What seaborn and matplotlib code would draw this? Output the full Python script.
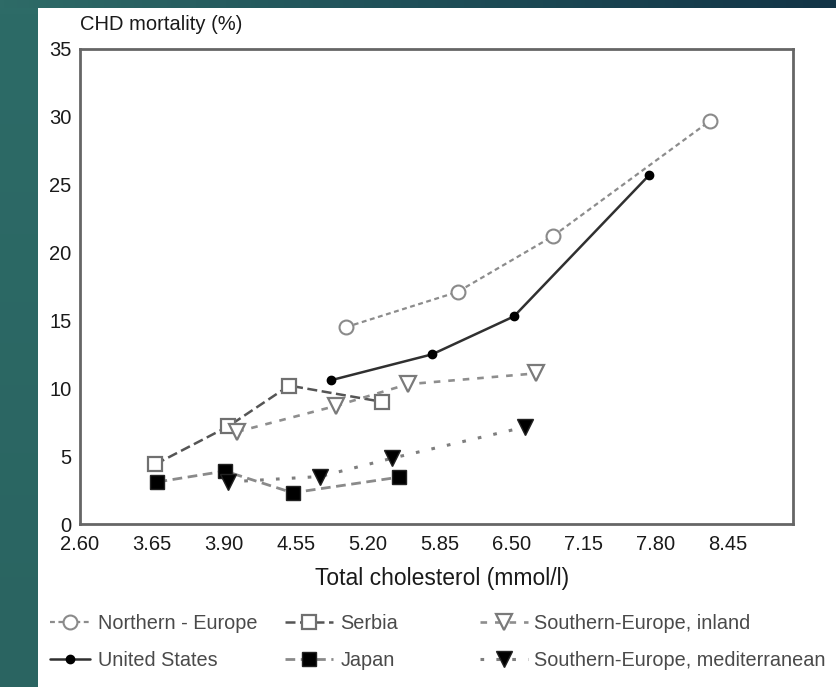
import numpy as np
import pandas as pd
import matplotlib
matplotlib.use("Agg")
import matplotlib.pyplot as plt
import seaborn as sns

# Total cholesterol (mmol/l) and CHD mortality (%) per cohort
ne_chol = [5.00, 6.01, 6.87, 8.29]
ne_mort = [14.5, 17.1, 21.2, 29.7]

us_chol = [4.87, 5.78, 6.52, 7.74]
us_mort = [10.6, 12.5, 15.3, 25.7]

serbia_chol = [3.28, 3.94, 4.49, 5.33]
serbia_mort = [4.4, 7.2, 10.2, 9.0]

inland_chol = [4.02, 4.91, 5.56, 6.72]
inland_mort = [6.8, 8.7, 10.3, 11.1]

japan_chol = [3.30, 3.91, 4.52, 5.48]
japan_mort = [3.1, 3.9, 2.3, 3.45]

med_chol = [3.94, 4.77, 5.42, 6.62]
med_mort = [3.1, 3.5, 4.85, 7.15]

x_ticks = [2.60, 3.25, 3.90, 4.55, 5.20, 5.85, 6.50, 7.15, 7.80, 8.45]
x_tick_labels = ["2.60", "3.65", "3.90", "4.55", "5.20", "5.85", "6.50", "7.15", "7.80", "8.45"]
y_ticks = [0, 5, 10, 15, 20, 25, 30, 35]

sns.set_theme(style="white")
plt.rcParams["font.family"] = ["Liberation Sans", "DejaVu Sans"]

W, H = 836, 687
fig = plt.figure(figsize=(W / 100, H / 100), dpi=100, facecolor="white")

# teal frame: left strip and a gradient band along the top
strip = fig.add_axes([0, 0, 38 / W, 1])
strip.imshow(np.linspace(0, 1, 50).reshape(-1, 1), aspect="auto",
             cmap=matplotlib.colors.LinearSegmentedColormap.from_list(
                 "lt", ["#2d6b67", "#2a6461"]), extent=[0, 1, 0, 1])
strip.set_axis_off()
band = fig.add_axes([0, 1 - 8 / H, 1, 8 / H])
band.imshow(np.linspace(0, 1, 200).reshape(1, -1), aspect="auto",
            cmap=matplotlib.colors.LinearSegmentedColormap.from_list(
                "tp", ["#2e6b67", "#1f4f58", "#123446"]), extent=[0, 1, 0, 1])
band.set_axis_off()

ax = fig.add_axes([80 / W, (H - 524) / H, (793 - 80) / W, (524 - 49) / H])
ax.set_facecolor("white")

series = [
    dict(x=ne_chol, y=ne_mort, label="Northern - Europe", color="#8c8c8c",
         linestyle=(0, (2.2, 1.6)), lw=1.6, marker="o", ms=10, mfc="white", mec="#8a8a8a", mew=1.5),
    dict(x=us_chol, y=us_mort, label="United States", color="#303030",
         linestyle="-", lw=1.8, marker="o", ms=6, mfc="black", mec="black", mew=1),
    dict(x=serbia_chol, y=serbia_mort, label="Serbia", color="#555555",
         linestyle=(0, (4, 1.8)), lw=1.8, marker="s", ms=10.5, mfc="white", mec="#707070", mew=1.6),
    dict(x=japan_chol, y=japan_mort, label="Japan", color="#8a8a8a",
         linestyle=(0, (3.5, 2)), lw=2.0, marker="s", ms=9.5, mfc="black", mec="#222222", mew=1),
    dict(x=inland_chol, y=inland_mort, label="Southern-Europe, inland", color="#8e8e8e",
         linestyle=(0, (2.5, 3)), lw=1.9, marker="v", ms=11, mfc="white", mec="#7a7a7a", mew=1.6),
    dict(x=med_chol, y=med_mort, label="Southern-Europe, mediterranean", color="#7e7e7e",
         linestyle=(0, (1.2, 4)), lw=2.2, marker="v", ms=11, mfc="black", mec="#222222", mew=1),
]

for s in series:
    sns.lineplot(x=s["x"], y=s["y"], ax=ax, sort=False, label=s["label"],
                 color=s["color"], linestyle=s["linestyle"], linewidth=s["lw"],
                 marker=s["marker"], markersize=s["ms"], markerfacecolor=s["mfc"],
                 markeredgecolor=s["mec"], markeredgewidth=s["mew"])
if ax.get_legend() is not None:
    ax.get_legend().remove()

ax.set_xlim(2.60, 9.04)
ax.set_ylim(0, 35)
ax.set_xticks(x_ticks)
ax.set_xticklabels(x_tick_labels)
ax.set_yticks(y_ticks)
ax.tick_params(axis="both", direction="in", length=8, width=1.5, color="#9a9a9a",
               labelsize=14.5, labelcolor="#1a1a1a")
ax.tick_params(axis="x", pad=8)
ax.tick_params(axis="y", pad=6)
for sp in ax.spines.values():
    sp.set_visible(True)
    sp.set_color("#666666")
    sp.set_linewidth(2.0)
ax.set_xlabel("")
ax.set_ylabel("")

fig.text(80 / W, 1 - 24 / H, "CHD mortality (%)", ha="left", va="center",
         fontsize=14.5, color="#1a1a1a")
fig.text(442 / W, 1 - 578 / H, "Total cholesterol (mmol/l)", ha="center", va="center",
         fontsize=16.5, color="#1a1a1a")

# legend in three columns of two entries each
handles = ax.get_lines()
lookup = {h.get_label(): h for h in handles}
columns = [
    (["Northern - Europe", "United States"], 50, 2.0, 0.4),
    (["Serbia", "Japan"], 285, 2.4, 0.4),
    (["Southern-Europe, inland", "Southern-Europe, mediterranean"], 480, 2.4, 0.3),
]
for labels, x0, hl, tp in columns:
    fig.legend([lookup[l] for l in labels], labels, loc="upper left",
               bbox_to_anchor=(x0 / W, 1 - 614 / H), frameon=False,
               fontsize=14.3, handlelength=hl, handletextpad=tp, labelspacing=0.92,
               borderaxespad=0, borderpad=0, labelcolor="#4a4a4a")

fig.savefig("out.png", dpi=100, facecolor="white")
